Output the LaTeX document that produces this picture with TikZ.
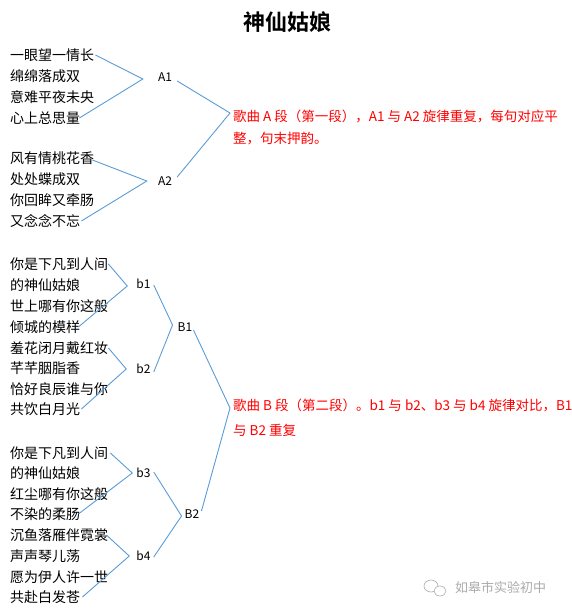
\documentclass[tikz,border=0pt]{standalone}
\usepackage{fontspec}
\setmainfont{Noto Sans CJK SC}[BoldFont={Noto Sans CJK SC Bold}]
\definecolor{linkblue}{RGB}{91,155,213}
\definecolor{markgray}{RGB}{170,170,170}
\tikzset{
  lyric/.style={anchor=west, inner sep=0pt, font=\fontsize{14}{16}\selectfont},
  lab/.style={inner sep=0pt, font=\fontsize{12}{14}\selectfont},
  conn/.style={draw=linkblue, line width=0.9pt},
  note/.style={anchor=north west, inner sep=0pt, align=left, text=red},
  titlestyle/.style={inner sep=0pt, font=\bfseries\fontsize{22}{24}\selectfont},
  wmark/.style={anchor=west, inner sep=0pt, text=markgray, font=\fontsize{13}{15}\selectfont}
}
\begin{document}
\begin{tikzpicture}[x=1pt,y=1pt]
\useasboundingbox (0,0) rectangle (571,-615);
\node[titlestyle] (title) at (287,-22) {神仙姑娘};

% A section
\node[lyric] (a1) at (10,-55) {一眼望一情长};
\node[lyric] (a2) at (10,-76) {绵绵落成双};
\node[lyric] (a3) at (10,-97) {意难平夜未央};
\node[lyric] (a4) at (10,-118) {心上总思量};
\node[lyric] (a5) at (10,-158) {风有情桃花香};
\node[lyric] (a6) at (10,-179) {处处蝶成双};
\node[lyric] (a7) at (10,-200) {你回眸又牵肠};
\node[lyric] (a8) at (10,-221) {又念念不忘};
\node[lab] (A1) at (165,-77) {A1};
\node[lab] (A2) at (165,-181) {A2};
\node[note, font=\fontsize{13.5}{22}\selectfont] (ra) at (233,-110)
  {歌曲 A 段（第一段），A1 与 A2 旋律重复，每句对应平\\整，句末押韵。};

\draw[conn] ([xshift=1pt]a1.east) -- ([xshift=-15pt,yshift=-2pt]A1.west) -- ([xshift=-1pt]a4.east);
\draw[conn] ([xshift=-2pt,yshift=-2pt]a5.east) -- ([xshift=-11pt]A2.west) -- ([xshift=1pt]a8.east);
\draw[conn] ([xshift=5pt,yshift=-4pt]A1.east) -- ([xshift=-3pt,yshift=-3pt]ra.north west) -- ([xshift=5pt,yshift=4pt]A2.east);

% B section
\node[lyric] (b11) at (10,-264) {你是下凡到人间};
\node[lyric] (b12) at (10,-285) {的神仙姑娘};
\node[lyric] (b13) at (10,-306) {世上哪有你这般};
\node[lyric] (b14) at (10,-327) {倾城的模样};
\node[lyric] (b21) at (10,-348) {羞花闭月戴红妆};
\node[lyric] (b22) at (10,-368) {芊芊胭脂香};
\node[lyric] (b23) at (10,-389) {恰好良辰谁与你};
\node[lyric] (b24) at (10,-409) {共饮白月光};
\node[lyric] (b31) at (10,-453) {你是下凡到人间};
\node[lyric] (b32) at (10,-473) {的神仙姑娘};
\node[lyric] (b33) at (10,-494) {红尘哪有你这般};
\node[lyric] (b34) at (10,-514) {不染的柔肠};
\node[lyric] (b41) at (10,-535) {沉鱼落雁伴霓裳};
\node[lyric] (b42) at (10,-556) {声声琴儿荡};
\node[lyric] (b43) at (10,-577) {愿为伊人许一世};
\node[lyric] (b44) at (10,-597) {共赴白发苍};

\node[lab] (L1) at (143.5,-284) {b1};
\node[lab] (L2) at (143.5,-369) {b2};
\node[lab] (L3) at (143.5,-473) {b3};
\node[lab] (L4) at (143.5,-556) {b4};
\node[lab] (B1) at (185,-327) {B1};
\node[lab] (B2) at (192,-514) {B2};
\node[note, font=\fontsize{13.5}{25}\selectfont] (rb) at (233,-399)
  {歌曲 B 段（第二段）。b1 与 b2、b3 与 b4 旋律对比，B1\\与 B2 重复};

\draw[conn] ([xshift=0pt]b11.east) -- ([xshift=-9pt,yshift=-2pt]L1.west) -- ([xshift=-2pt]b14.east);
\draw[conn] ([xshift=0pt]b21.east) -- ([xshift=-10pt]L2.west) -- ([xshift=1pt]b24.east);
\draw[conn] ([xshift=2pt]b31.east) -- ([xshift=-4pt]L3.west) -- ([xshift=-2pt]b34.east);
\draw[conn] ([xshift=-2pt]b41.east) -- ([xshift=-7pt]L4.west) -- ([xshift=2pt]b44.east);

\draw[conn] ([xshift=3pt,yshift=-1pt]L1.east) -- ([xshift=-5pt,yshift=2pt]B1.west) -- ([xshift=3pt,yshift=-3pt]L2.east);
\draw[conn] ([xshift=3pt,yshift=1pt]L3.east) -- ([xshift=-3pt,yshift=-2pt]B2.west) -- ([xshift=3pt,yshift=-1pt]L4.east);
\draw[conn] ([xshift=1pt,yshift=-3pt]B1.east) -- ([xshift=-3pt,yshift=-9pt]rb.north west) -- ([xshift=2pt,yshift=3pt]B2.east);

% watermark
\draw[markgray, line width=0.6pt] (431,-586) circle[x radius=7, y radius=6];
\draw[markgray, line width=0.6pt, fill=white] (440,-591) circle[x radius=6, y radius=5];
\node[wmark] (wm) at (455,-588) {如皋市实验初中};
\end{tikzpicture}
\end{document}
